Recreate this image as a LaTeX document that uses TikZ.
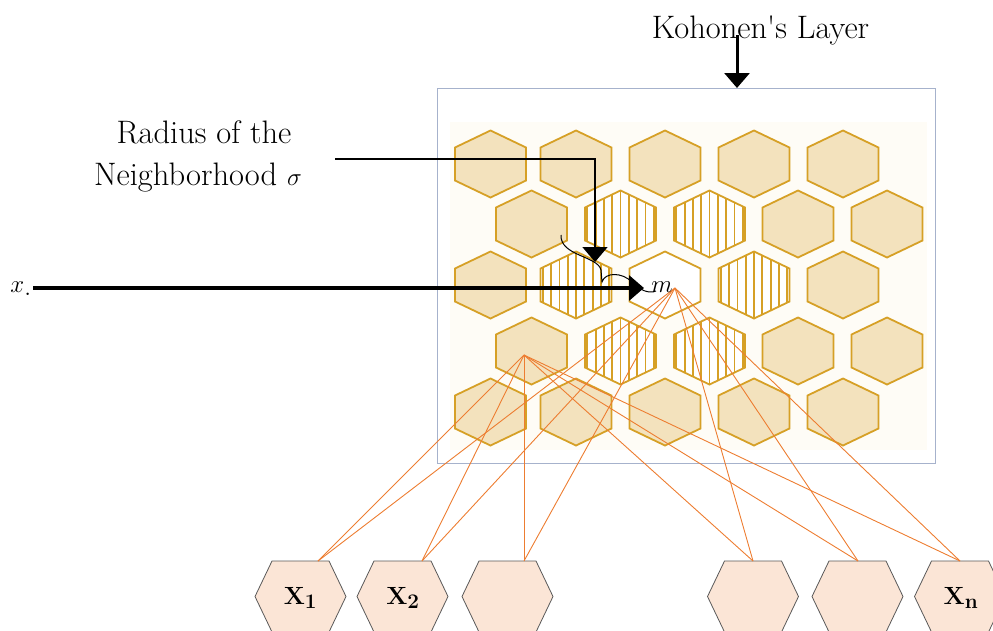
\documentclass[tikz,border=0pt]{standalone}
\usepackage{amsmath,amssymb}
\usetikzlibrary{arrows.meta,calc}

\definecolor{cellfill}{RGB}{243,226,189}
\definecolor{celldraw}{RGB}{214,160,38}
\definecolor{linkorange}{RGB}{237,125,49}
\definecolor{infill}{RGB}{251,229,214}
\definecolor{framegray}{RGB}{166,178,204}
\definecolor{paper}{RGB}{254,252,246}

\tikzset{
  cell/.style={draw=celldraw,line width=1.8pt,fill=cellfill},
  hatch/.style={draw=celldraw,line width=1.8pt},
  inputcell/.style={draw=black!65,line width=0.8pt,fill=infill},
  link/.style={draw=linkorange,line width=0.9pt},
  txt/.style={font=\fontsize{32.5}{38}\selectfont,inner sep=0pt},
  inlabel/.style={font=\fontsize{29}{32}\selectfont,inner sep=0pt},
  bigarrow/.style={line width=3pt,-{Triangle[length=15pt,width=25pt]}}
}
\newcommand\cellpath{(-35.5,-16.5) -- (0,-33.5) -- (35.5,-16.5) -- (35.5,16.5) -- (0,33.5) -- (-35.5,16.5) -- cycle}

\begin{document}
\begin{tikzpicture}[x=1pt,y=-1pt]
  \useasboundingbox (0,0) rectangle (993,630);
  \path
    (737,35) coordinate (ktop)
    (737,88) coordinate (frametop)
    (335,159) coordinate (rstart)
    (595,262) coordinate (rend)
    (33,288) coordinate (xstart)
    (644,288) coordinate (xend)
    (524,355) coordinate (srcB)
    (675,288) coordinate (srcM);
  % Kohonen layer
  \draw[framegray,line width=1pt,fill=white] (437,88) rectangle (935,463);
  \fill[paper] (450,122) rectangle (927,450);
  \foreach \x/\y in {490.5/164,576/164,665/164,754/164,843/164,
                     531.5/224,798/224,887/224,
                     490.5/285,843/285,
                     531.5/351,798/351,887/351,
                     490.5/412,576/412,665/412,754/412,843/412}
    \draw[cell,shift={(\x,\y)}] \cellpath;
  \draw[cell,fill=white,shift={(665,285)}] \cellpath;
  \foreach \x/\y in {620.5/224,709.5/224,576/285,754/285,620.5/351,709.5/351} {
    \begin{scope}[shift={(\x,\y)}]
      \clip \cellpath;
      \fill[white] \cellpath;
      \foreach \k in {-4,...,4} \draw[hatch] (\k*8.3,-40) -- (\k*8.3,40);
    \end{scope}
    \draw[hatch,shift={(\x,\y)}] \cellpath;
  }
  % input layer
  \foreach \i/\cx/\ex in {1/300.5/318,2/402.5/422,3/507.5/524,4/753/753,5/857.5/858,6/960/960} {
    \draw[inputcell] (\cx-28.5,561) -- (\cx+28.5,561) -- (\cx+45.5,596.5) -- (\cx+28.5,632)
      -- (\cx-28.5,632) -- (\cx-45.5,596.5) -- cycle;
    \coordinate (in\i) at (\ex,561);
  }
  \node[inlabel] (x1) at (300.5,598) {$\mathbf{X}_{\mathbf{1}}$};
  \node[inlabel] (x2) at (403,598) {$\mathbf{X}_{\mathbf{2}}$};
  \node[inlabel] (xn) at (961,598) {$\mathbf{X}_{\mathbf{n}}$};
  \foreach \s in {srcB,srcM} \foreach \i in {1,...,6} \draw[link] (\s) -- (in\i);
  % labels and arrows
  \node[txt,anchor=base] (kohonen) at (760.5,38) {Kohonen\textquotesingle s Layer};
  \node[txt,anchor=base] (radius) at (204,143) {Radius of the};
  \node[txt,anchor=base] (neigh) at (198,185) {Neighborhood $\sigma$};
  \node[txt,anchor=base,font=\fontsize{36}{40}\selectfont] (xin) at (21,292) {$x_{.}$};
  \draw[line width=1pt] (561,235) .. controls (560,256) and (598,256) .. (601,270) -- (602,282)
    .. controls (605,272) and (622,272) .. (632,282) .. controls (640,290) and (648,294) .. (656,291);
  \draw[bigarrow] (ktop) -- (frametop);
  \draw[line width=1.6pt,-{Triangle[length=15pt,width=25pt]}] (rstart) -| (rend);
  \draw[bigarrow,line width=3.3pt] (xstart) -- (xend);
  \node[anchor=base,inner sep=0pt,font=\fontsize{31}{34}\selectfont] (m) at (662,292) {$m$};
\end{tikzpicture}
\end{document}
